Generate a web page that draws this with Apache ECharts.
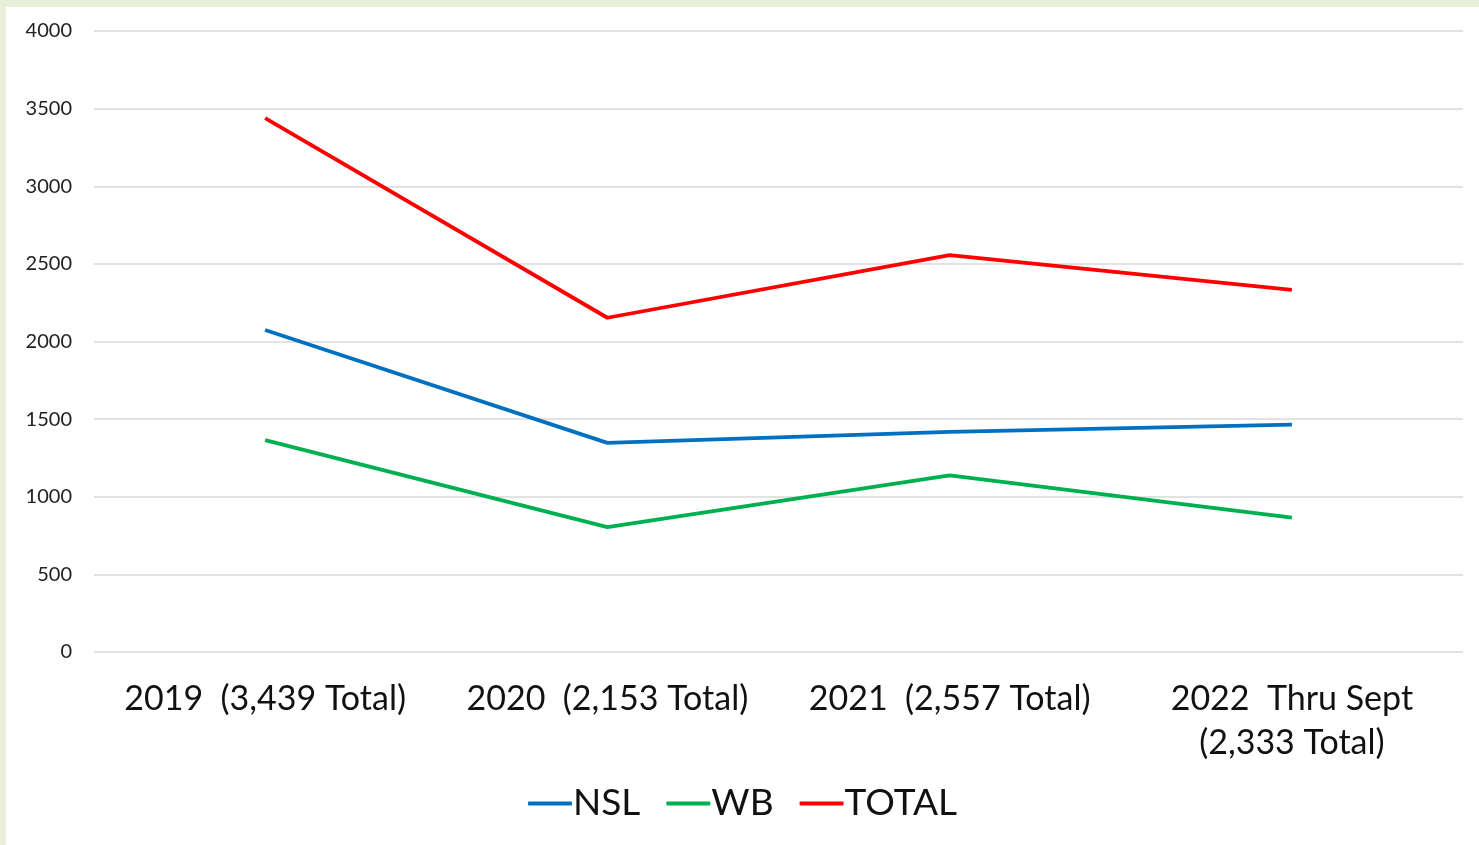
<!DOCTYPE html>
<html><head><meta charset="utf-8">
<script src="https://cdn.jsdelivr.net/npm/echarts@6/dist/echarts.min.js"></script>
<style>
html,body{margin:0;padding:0;background:#e9efda;width:1479px;height:845px;overflow:hidden;}
#c{position:absolute;left:6px;top:7px;width:1473px;height:838px;background:#fff;}
</style></head><body>
<div id="c"></div>
<script>
const categories = ["2019  (3,439 Total)", "2020  (2,153 Total)", "2021  (2,557 Total)", "2022  Thru Sept\n(2,333 Total)"];
const nsl = [2074, 1347, 1418, 1464];
const wb = [1365, 804, 1137, 866];
const total = [3439, 2153, 2557, 2333];
const seriesNames = ["NSL", "WB", "TOTAL"];
const colors = ["#0070C0", "#00B050", "#FF0000"];
const FONT = "Lato, 'DejaVu Sans', sans-serif";
const chart = echarts.init(document.getElementById('c'));
const mk = (name, data, color) => ({
  name, type: 'line', data, symbol: 'none', color,
  lineStyle: {width: 3.8, color}, animation: false
});
chart.setOption({
  animation: false,
  grid: {left: 88, right: 16, top: 24, bottom: 193, containLabel: false},
  legend: {
    data: seriesNames, bottom: 18, left: 'center', itemWidth: 44, itemHeight: 4, itemGap: 26,
    icon: 'roundRect',
    textStyle: {fontSize: 37, color: '#111', fontFamily: FONT, padding: [0,0,0,-4]}
  },
  xAxis: {
    type: 'category', data: categories, boundaryGap: true,
    axisLine: {show: false}, axisTick: {show: false},
    axisLabel: {fontSize: 34, color: '#111', fontFamily: FONT, margin: 25, lineHeight: 44, interval: 0}
  },
  yAxis: {
    type: 'value', min: 0, max: 4000, interval: 500,
    axisLine: {show: false}, axisTick: {show: false},
    axisLabel: {fontSize: 20, color: '#222', fontFamily: FONT, margin: 22, formatter: v => String(v)},
    splitLine: {lineStyle: {color: '#d9d9d9', width: 1.5}}
  },
  series: [mk(seriesNames[0], nsl, colors[0]), mk(seriesNames[1], wb, colors[1]), mk(seriesNames[2], total, colors[2])]
});
</script></body></html>
